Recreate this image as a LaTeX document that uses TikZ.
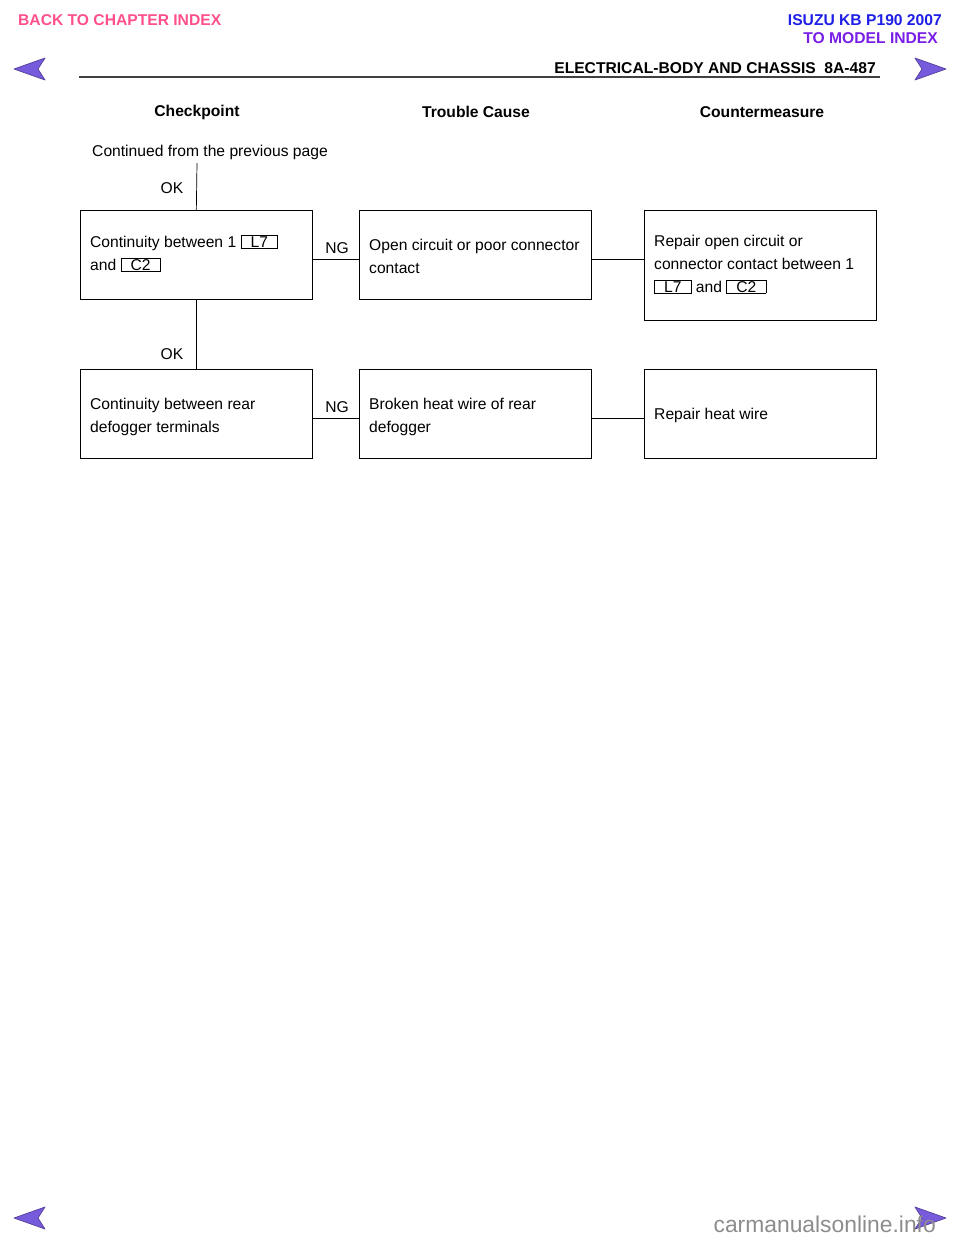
\documentclass[tikz,border=0pt]{standalone}
\usepackage{fontspec}
\setmainfont{Liberation Sans}
\usetikzlibrary{positioning}
\definecolor{linkpink}{RGB}{255,80,140}
\definecolor{linkblue}{RGB}{30,30,230}
\definecolor{linkpurple}{RGB}{120,30,230}
\definecolor{navviolet}{RGB}{120,90,220}
\newcommand{\conn}[1]{\fcolorbox{black}{white}{\hspace{0.55em}#1\hspace{0.55em}}}
\tikzset{
  chkbox/.style={draw, minimum width=4.64cm, minimum height=1.78cm, anchor=north west},
  boxtext/.style={anchor=north west, align=left, font=\fontsize{8.9}{13}\selectfont},
  lbl/.style={font=\fontsize{8.9}{11}\selectfont},
  hdr/.style={font=\bfseries\fontsize{8.9}{11}\selectfont},
  navarrow/.style={fill=navviolet, draw=navviolet!70!black, line join=round}
}
\begin{document}
\begin{tikzpicture}[x=0.02cm, y=-0.02cm]
  \useasboundingbox (0,0) rectangle (960,1242);
  \setlength{\fboxsep}{0.4pt}\setlength{\fboxrule}{0.4pt}

  % page header
  \node[hdr, text=linkpink, anchor=west] (back) at (12,20) {BACK TO CHAPTER INDEX};
  \node[hdr, text=linkblue, anchor=east] (model) at (948,20) {ISUZU KB P190 2007};
  \node[hdr, text=linkpurple, anchor=east] (index) at (944,38) {TO MODEL INDEX};
  \node[hdr, anchor=east] (title) at (882,68) {ELECTRICAL-BODY AND CHASSIS\ \ 8A-487};
  \draw[line width=1.2pt, black!75] (79,77) -- (880,77);
  \draw[navarrow] (14,69) -- (45,58) -- (38,69) -- (45,80) -- cycle;
  \draw[navarrow] (946,69) -- (915,58) -- (922,69) -- (915,80) -- cycle;
  \draw[navarrow] (14,1218) -- (45,1207) -- (38,1218) -- (45,1229) -- cycle;
  \draw[navarrow] (946,1218) -- (915,1207) -- (922,1218) -- (915,1229) -- cycle;
  \node[font=\fontsize{13}{15}\selectfont, text=black!45, anchor=east] (site) at (942,1224) {carmanualsonline.info};

  % column heads
  \node[hdr] (hcheck) at (197,112) {Checkpoint};
  \node[hdr] (hcause) at (476,112) {Trouble Cause};
  \node[hdr] (hcount) at (762,112) {Countermeasure};

  \node[lbl] (cont) at (210,152) {Continued from the previous page};
  \coordinate (top) at (197,163);

  % row 1
  \node[chkbox] (A1) at (80,210) {};
  \node[chkbox] (B1) at (359,210) {};
  \node[chkbox, minimum height=2.2cm] (C1) at (644,210) {};
  \node[boxtext] at (84,229) {Continuity between 1 \conn{L7}\\and \conn{C2}};
  \node[boxtext] at (363,233) {Open circuit or poor connector\\contact};
  \node[boxtext] at (648,229) {Repair open circuit or\\connector contact between 1\\\conn{L7} and \conn{C2}};

  % row 2
  \node[chkbox] (A2) at (80,369) {};
  \node[chkbox] (B2) at (359,369) {};
  \node[chkbox] (C2) at (644,369) {};
  \node[boxtext] at (84,392) {Continuity between rear\\defogger terminals};
  \node[boxtext] at (363,392) {Broken heat wire of rear\\defogger};
  \node[boxtext] at (648,402) {Repair heat wire};

  % connectors
  \draw (top) -- (A1.north);
  \node[lbl] (ok1) at (172,188) {OK};
  \draw (A1.south) -- (A2.north);
  \node[lbl] (ok2) at (172,354) {OK};
  \draw (A1.east |- 0,259) -- (B1.west |- 0,259);
  \node[lbl] (ng1) at (337,248) {NG};
  \draw (B1.east |- 0,259) -- (C1.west |- 0,259);
  \draw (A2.east |- 0,418) -- (B2.west |- 0,418);
  \node[lbl] (ng2) at (337,407) {NG};
  \draw (B2.east |- 0,418) -- (C2.west |- 0,418);
\end{tikzpicture}
\end{document}
